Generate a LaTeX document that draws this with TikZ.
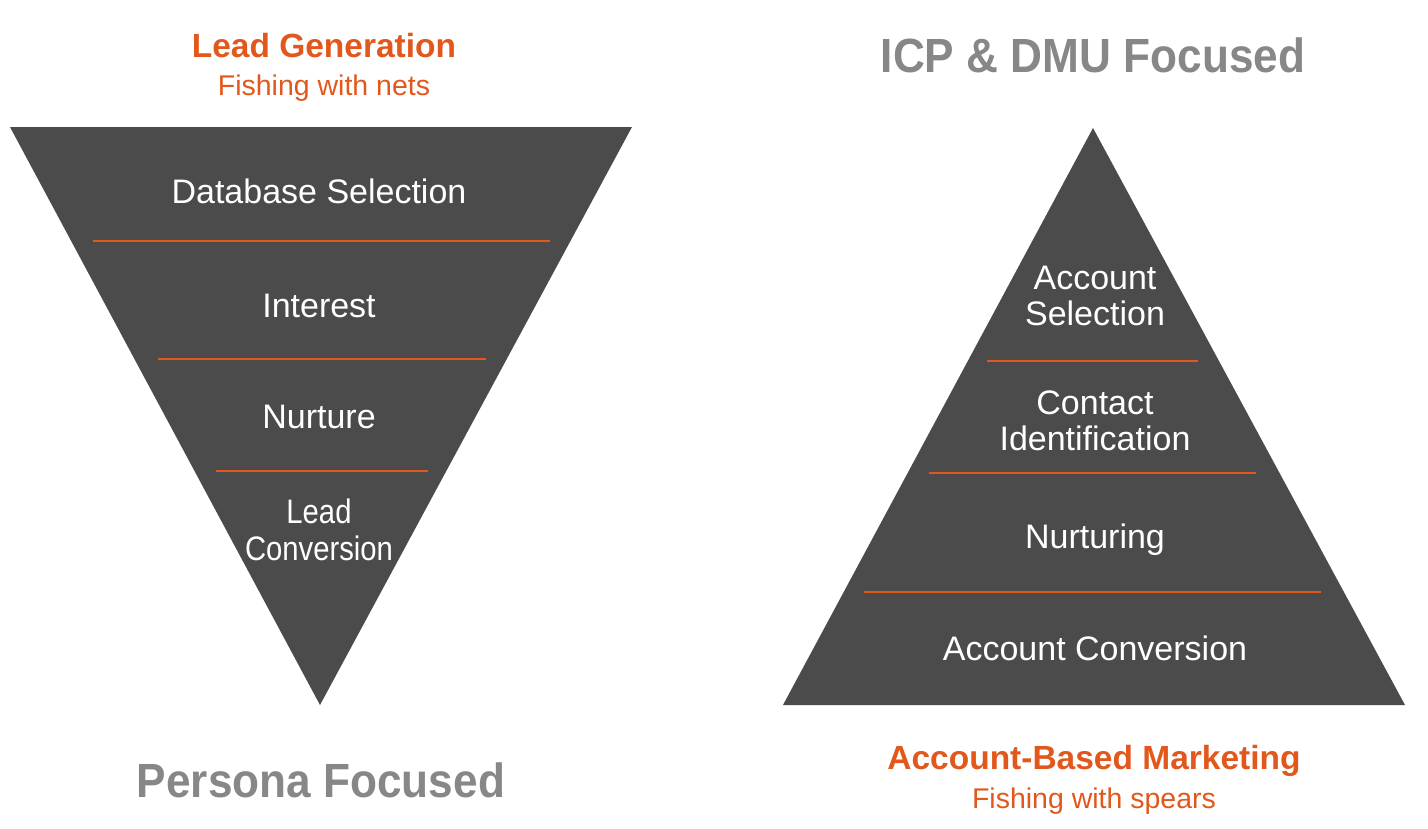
\documentclass[tikz,border=0pt]{standalone}
\usepackage{fontspec}
\setmainfont{Liberation Sans}
\newfontfamily\condf[FakeStretch=0.92]{Liberation Sans}
\newfontfamily\narrowf[FakeStretch=0.86]{Liberation Sans}
\definecolor{funnel}{HTML}{4B4B4B}
\definecolor{accent}{HTML}{E2581C}
\definecolor{greytitle}{HTML}{878787}
\tikzset{
  body/.style={anchor=base,inner sep=0pt,text=white,font=\fontsize{34}{36}\selectfont},
  bodynarrow/.style={body,font=\narrowf\fontsize{34}{36}\selectfont},
  sep/.style={draw=accent,line width=2.2pt},
  ortitle/.style={anchor=base,inner sep=0pt,text=accent,font=\bfseries\fontsize{33.5}{36}\selectfont},
  orsub/.style={anchor=base,inner sep=0pt,text=accent,font=\fontsize{28.5}{32}\selectfont},
  grtitle/.style={anchor=base,inner sep=0pt,text=greytitle,font=\condf\bfseries\fontsize{48}{52}\selectfont},
}
\begin{document}
\begin{tikzpicture}[x=1pt,y=-1pt]
\useasboundingbox (0,0) rectangle (1428,828);
% inverted funnel
\fill[funnel] (10,127) -- (632,127) -- (320,705) -- cycle;
\coordinate (l1a) at (93,241); \coordinate (l1b) at (550,241);
\coordinate (l2a) at (158,359); \coordinate (l2b) at (486,359);
\coordinate (l3a) at (216,471); \coordinate (l3b) at (428,471);
\draw[sep] (l1a) -- (l1b);
\draw[sep] (l2a) -- (l2b);
\draw[sep] (l3a) -- (l3b);
\node[body] (db) at (319,203) {Database Selection};
\node[body] (int) at (319,317) {Interest};
\node[body] (nur) at (319,428) {Nurture};
\node[bodynarrow] (lc1) at (319,523) {Lead};
\node[bodynarrow] (lc2) at (319,560) {Conversion};
% pyramid
\fill[funnel] (1093,128) -- (1405,705) -- (783,705) -- cycle;
\coordinate (p1a) at (987,361); \coordinate (p1b) at (1198,361);
\coordinate (p2a) at (929,473); \coordinate (p2b) at (1256,473);
\coordinate (p3a) at (864,592); \coordinate (p3b) at (1321,592);
\draw[sep] (p1a) -- (p1b);
\draw[sep] (p2a) -- (p2b);
\draw[sep] (p3a) -- (p3b);
\node[body] (as1) at (1095,289) {Account};
\node[body] (as2) at (1095,325) {Selection};
\node[body] (ci1) at (1095,414) {Contact};
\node[body] (ci2) at (1095,450) {Identification};
\node[body] (nrt) at (1095,548) {Nurturing};
\node[body] (acv) at (1095,660) {Account Conversion};
% titles
\node[ortitle] (lg) at (324,57) {Lead Generation};
\node[orsub] (fn) at (324,95) {Fishing with nets};
\node[grtitle] (icp) at (1093,72) {ICP \& DMU Focused};
\node[grtitle] (pf) at (321,797) {Persona Focused};
\node[ortitle] (abm) at (1094,769) {Account-Based Marketing};
\node[orsub] (fs) at (1094,808) {Fishing with spears};
\end{tikzpicture}
\end{document}
